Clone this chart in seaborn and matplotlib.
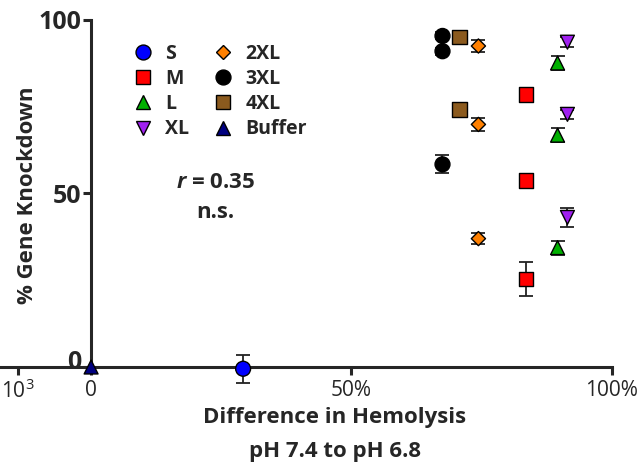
import matplotlib
matplotlib.use("Agg")
import matplotlib.pyplot as plt
from matplotlib.lines import Line2D
from matplotlib.transforms import ScaledTranslation
import numpy as np
import pandas as pd
import seaborn as sns

# Formulation groups
groups = ["S", "M", "L", "XL", "2XL", "3XL", "4XL", "Buffer"]
colors = ["#0000FF", "#FF0000", "#00B000", "#A020F0", "#FF8000", "#000000", "#8B5A1E", "#000080"]
markers = ["o", "s", "^", "v", "D", "o", "s", "^"]
sizes = [115, 110, 100, 100, 52, 115, 115, 100]

# Hemolysis difference (fraction) per group
hemolysis = {"S": 0.292, "M": 0.835, "L": 0.896, "XL": 0.915,
             "2XL": 0.744, "3XL": 0.675, "4XL": 0.708, "Buffer": 0.0}
# Gene knockdown (%) and SD per measurement
knockdown = {"S": [-0.5], "M": [78.6, 53.8, 25.4], "L": [87.6, 66.8, 34.4],
             "XL": [93.6, 72.8, 43.1], "2XL": [92.5, 69.9, 37.0],
             "3XL": [95.4, 91.0, 58.4], "4XL": [95.1, 74.3], "Buffer": [0.0]}
knockdown_sd = {"S": [4.0], "M": [1.0, 1.0, 4.8], "L": [2.0, 2.0, 2.0],
                "XL": [1.5, 1.2, 2.8], "2XL": [1.8, 1.8, 1.5],
                "3XL": [1.0, 1.0, 2.6], "4XL": [1.8, 1.0], "Buffer": [0.0]}

x_ticks = [-0.14, 0.0, 0.5, 1.0]
x_ticklabels = [r"10$^3$", "0", "50%", "100%"]
y_ticks = [0, 50, 100]

rows = []
for g in groups:
    for y, e in zip(knockdown[g], knockdown_sd[g]):
        rows.append({"group": g, "hemolysis": hemolysis[g], "knockdown": y, "sd": e})
df = pd.DataFrame(rows)

sns.set_style("ticks")
plt.rcParams["font.family"] = ["Open Sans", "DejaVu Sans"]
plt.rcParams["mathtext.fontset"] = "custom"
plt.rcParams["mathtext.rm"] = "Open Sans"
plt.rcParams["mathtext.it"] = "Open Sans:italic:bold"

fig = plt.figure(figsize=(6.43, 4.68), dpi=100)
ax = fig.add_axes([0.0, 0.2158, 0.9513, 0.7415])

# error bars beneath the markers
ax.errorbar(df["hemolysis"], df["knockdown"], yerr=df["sd"], fmt="none",
            ecolor="#222222", elinewidth=1.3, capsize=5, capthick=1.3,
            zorder=2, clip_on=False)

sns.scatterplot(data=df, x="hemolysis", y="knockdown", hue="group", style="group",
                size="group", palette=dict(zip(groups, colors)),
                markers=dict(zip(groups, markers)), sizes=dict(zip(groups, sizes)),
                edgecolor="black", linewidth=1.0, legend=False, ax=ax,
                zorder=3, clip_on=False)

ax.set_xlim(-0.175, 1.0)
ax.set_ylim(0, 100)

for side in ["top", "right"]:
    ax.spines[side].set_visible(False)
ax.spines["left"].set_position(("data", 0))
ax.spines["left"].set_linewidth(2.2)
ax.spines["bottom"].set_linewidth(2.2)

ax.set_xticks(x_ticks)
ax.set_xticklabels(x_ticklabels, fontsize=15)
ax.set_yticks(y_ticks)
ax.set_yticklabels([str(v) for v in y_ticks], fontsize=18, fontweight="bold")
ax.tick_params(axis="both", direction="out", length=6, width=2.2, pad=3)
ax.tick_params(axis="y", pad=1)

# lift the zero label of the y axis a little above the baseline
zero_label = ax.get_yticklabels()[0]
zero_label.set_transform(zero_label.get_transform()
                         + ScaledTranslation(0, 8 / 100, fig.dpi_scale_trans))

ax.set_xlabel("")
ax.set_ylabel("")
fig.text(335 / 643, 1 - 417 / 468, "Difference in Hemolysis", ha="center", va="center",
         fontsize=16, fontweight="bold")
fig.text(335 / 643, 1 - 452 / 468, "pH 7.4 to pH 6.8", ha="center", va="center",
         fontsize=16, fontweight="bold")
fig.text(28 / 643, 1 - 195 / 468, "% Gene Knockdown", ha="center", va="center",
         rotation=90, fontsize=16, fontweight="bold")

fig.text(216 / 643, 1 - 183 / 468, r"$\it{r}$ = 0.35", ha="center", va="center",
         fontsize=16, fontweight="bold")
fig.text(215 / 643, 1 - 213 / 468, "n.s.", ha="center", va="center",
         fontsize=16, fontweight="bold")

handles = [Line2D([], [], linestyle="none", marker=m, markersize=np.sqrt(s),
                  markerfacecolor=c, markeredgecolor="black", markeredgewidth=1.0)
           for m, c, s in zip(markers, colors, sizes)]
ax.legend(handles, groups, ncol=2, loc="upper left",
          bbox_to_anchor=(124 / 643, 1 - 34 / 468), bbox_transform=fig.transFigure,
          frameon=False, borderpad=0, handlelength=1.0, handletextpad=0.63,
          columnspacing=1.25, labelspacing=0.27,
          prop={"size": 14, "weight": "bold"})

fig.savefig("out.png", dpi=100)
